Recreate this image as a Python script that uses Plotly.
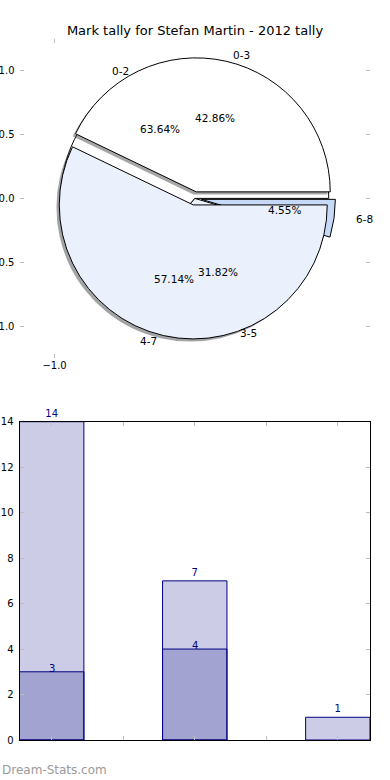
import math
import plotly.graph_objects as go

# ---------------- data ----------------
chart_title = "Mark tally for Stefan Martin - 2012 tally"

# first pie (drawn underneath)
pie_b_labels = ["0-2", "3-5", "6-8"]
pie_b_values = [14, 7, 1]
pie_b_explode = [0.0, 0.0, 0.05]
pie_b_colors = ["#ffffff", "#eaf0fc", "#c6d9f7"]

# second pie (drawn on top, with shadow)
pie_a_labels = ["0-3", "4-7"]
pie_a_values = [3, 4]
pie_a_explode = [0.05, 0.05]
pie_a_colors = ["#ffffff", "#eaf0fc"]
pie_a_shadow = ["rgba(77,77,77,0.5)", "rgba(70,72,76,0.5)"]

pie_x_ticks = [-1.0]
pie_y_ticks = [-1.0, -0.5, 0.0, 0.5, 1.0]

# bar chart
bar_x = [0, 1, 2]
bar_totals = [14, 7, 1]
bar_x_low = [0, 1]
bar_lows = [3, 4]
bar_x_ticks = [0, 0.5, 1, 1.5, 2]
bar_y_ticks = [0, 2, 4, 6, 8, 10, 12, 14]

# ---------------- layout geometry ----------------
W, H = 390, 780
AX_L, AX_R = 19.5, 370.0           # px, shared horizontal extent
PIE_T, PIE_B = 38.9, 357.9         # px, pie axes vertical extent
BAR_T, BAR_B = 421.7, 740.0        # px, bar axes vertical extent
PIE_R = 134.0                      # px, drawn pie radius
FONT = "DejaVu Sans"
TICK_GRAY = "#bdbdbd"
NAVY = "#000080"


def px_x(p):
    return p / W


def px_y(p):
    return 1 - p / H


pie_cx = (AX_L + AX_R) / 2
pie_cy = (PIE_T + PIE_B) / 2


def pie_domain(max_pull, dx=0.0, dy=0.0):
    half = PIE_R * (1 + max_pull)
    return dict(x=[px_x(pie_cx - half + dx), px_x(pie_cx + half + dx)],
                y=[px_y(pie_cy + half + dy), px_y(pie_cy - half + dy)])


fig = go.Figure()


def add_pie(labels, values, pulls, colors, line_color, dom):
    # matplotlib order: counter-clockwise from 3 o'clock == reversed clockwise from 3 o'clock
    fig.add_trace(go.Pie(
        labels=labels[::-1], values=values[::-1], pull=pulls[::-1],
        marker=dict(colors=colors[::-1], line=dict(color=line_color, width=1)),
        sort=False, direction="clockwise", rotation=90,
        textinfo="none", hoverinfo="label+percent+value",
        domain=dom, showlegend=False,
    ))


maxpull = max(pie_b_explode + pie_a_explode)
add_pie(pie_b_labels, pie_b_values, pie_b_explode, pie_b_colors, "#000000", pie_domain(maxpull))
add_pie(pie_a_labels, pie_a_values, pie_a_explode, pie_a_shadow, "rgba(0,0,0,0)",
        pie_domain(maxpull, dx=-2.8, dy=2.6))
add_pie(pie_a_labels, pie_a_values, pie_a_explode, pie_a_colors, "#000000", pie_domain(maxpull))

# pie texts, placed like matplotlib (pct at 0.6 r, labels at 1.1 r, plus explode)
annotations = []


def pie_texts(labels, values, explode):
    total = float(sum(values))
    cum = 0.0
    for lab, v, e in zip(labels, values, explode):
        frac = v / total
        th = 2 * math.pi * (cum + frac / 2)
        cum += frac
        c, s = math.cos(th), math.sin(th)
        annotations.append(dict(x=(0.6 + e) * c, y=(0.6 + e) * s, xref="x", yref="y",
                                text=f"{100 * frac:.2f}%", showarrow=False,
                                xanchor="center", yanchor="middle",
                                font=dict(size=10.5, color="#000000", family=FONT)))
        annotations.append(dict(x=(1.1 + e) * c, y=(1.1 + e) * s, xref="x", yref="y",
                                text=lab, showarrow=False,
                                xanchor="left" if c > 0 else "right", yanchor="middle",
                                font=dict(size=10.5, color="#000000", family=FONT)))


pie_texts(pie_b_labels, pie_b_values, pie_b_explode)
pie_texts(pie_a_labels, pie_a_values, pie_a_explode)

# ---------------- bars ----------------
fig.add_trace(go.Bar(
    x=bar_x, y=bar_totals, width=0.45, xaxis="x2", yaxis="y2",
    marker=dict(color="rgba(0,0,128,0.2)", line=dict(color=NAVY, width=1)),
    text=[str(v) for v in bar_totals], textposition="outside",
    textfont=dict(color=NAVY, size=10, family=FONT), cliponaxis=False,
    showlegend=False,
))
fig.add_trace(go.Bar(
    x=bar_x_low, y=bar_lows, width=0.45, xaxis="x2", yaxis="y2",
    marker=dict(color="rgba(0,0,128,0.2)", line=dict(color=NAVY, width=1)),
    showlegend=False,
))
for xv, yv in zip(bar_x_low, bar_lows):
    annotations.append(dict(x=xv, y=yv, xref="x2", yref="y2", text=str(yv),
                            showarrow=False, xanchor="center", yanchor="bottom", yshift=-4,
                            font=dict(size=10, color=NAVY, family=FONT)))

annotations.append(dict(x=0, y=px_y(770), xref="paper", yref="paper",
                        text="Dream-Stats.com", showarrow=False,
                        xanchor="left", yanchor="middle",
                        font=dict(size=12, color="#9a9a9a", family=FONT)))

tick_common = dict(ticks="inside", ticklen=4, tickcolor=TICK_GRAY, tickwidth=1,
                   showgrid=False, zeroline=False, automargin=False,
                   tickfont=dict(size=10, color="#000000", family=FONT))

fig.update_layout(
    width=W, height=H,
    margin=dict(l=0, r=0, t=0, b=0),
    paper_bgcolor="#ffffff", plot_bgcolor="rgba(0,0,0,0)",
    font=dict(family=FONT, color="#000000"),
    title=dict(text=chart_title, x=0.5, xanchor="center", y=px_y(30), yanchor="middle",
               font=dict(size=13, family=FONT, color="#000000")),
    barmode="overlay",
    xaxis=dict(domain=[px_x(AX_L), px_x(AX_R)], range=[-1.25, 1.25],
               tickvals=pie_x_ticks, tickformat=".1f", showline=False, mirror="allticks",
               anchor="y", fixedrange=True, **tick_common),
    yaxis=dict(domain=[px_y(PIE_B), px_y(PIE_T)], range=[-1.25, 1.25],
               tickvals=pie_y_ticks, tickformat=".1f", showline=False, mirror="allticks",
               anchor="x", ticklabelstandoff=4, fixedrange=True, **tick_common),
    xaxis2=dict(domain=[px_x(AX_L), px_x(AX_R)], range=[-0.225, 2.225],
                tickvals=bar_x_ticks, showticklabels=False, showline=True, linecolor="#000000",
                linewidth=1, mirror="ticks", anchor="y2", **tick_common),
    yaxis2=dict(domain=[px_y(BAR_B), px_y(BAR_T)], range=[0, 14],
                tickvals=bar_y_ticks, showline=True, linecolor="#000000", linewidth=1,
                mirror="ticks", anchor="x2", ticklabelstandoff=3, **tick_common),
    annotations=annotations,
)

fig.write_html("out.html", config={"displayModeBar": False},
               post_script="document.body.style.margin='0px';")
